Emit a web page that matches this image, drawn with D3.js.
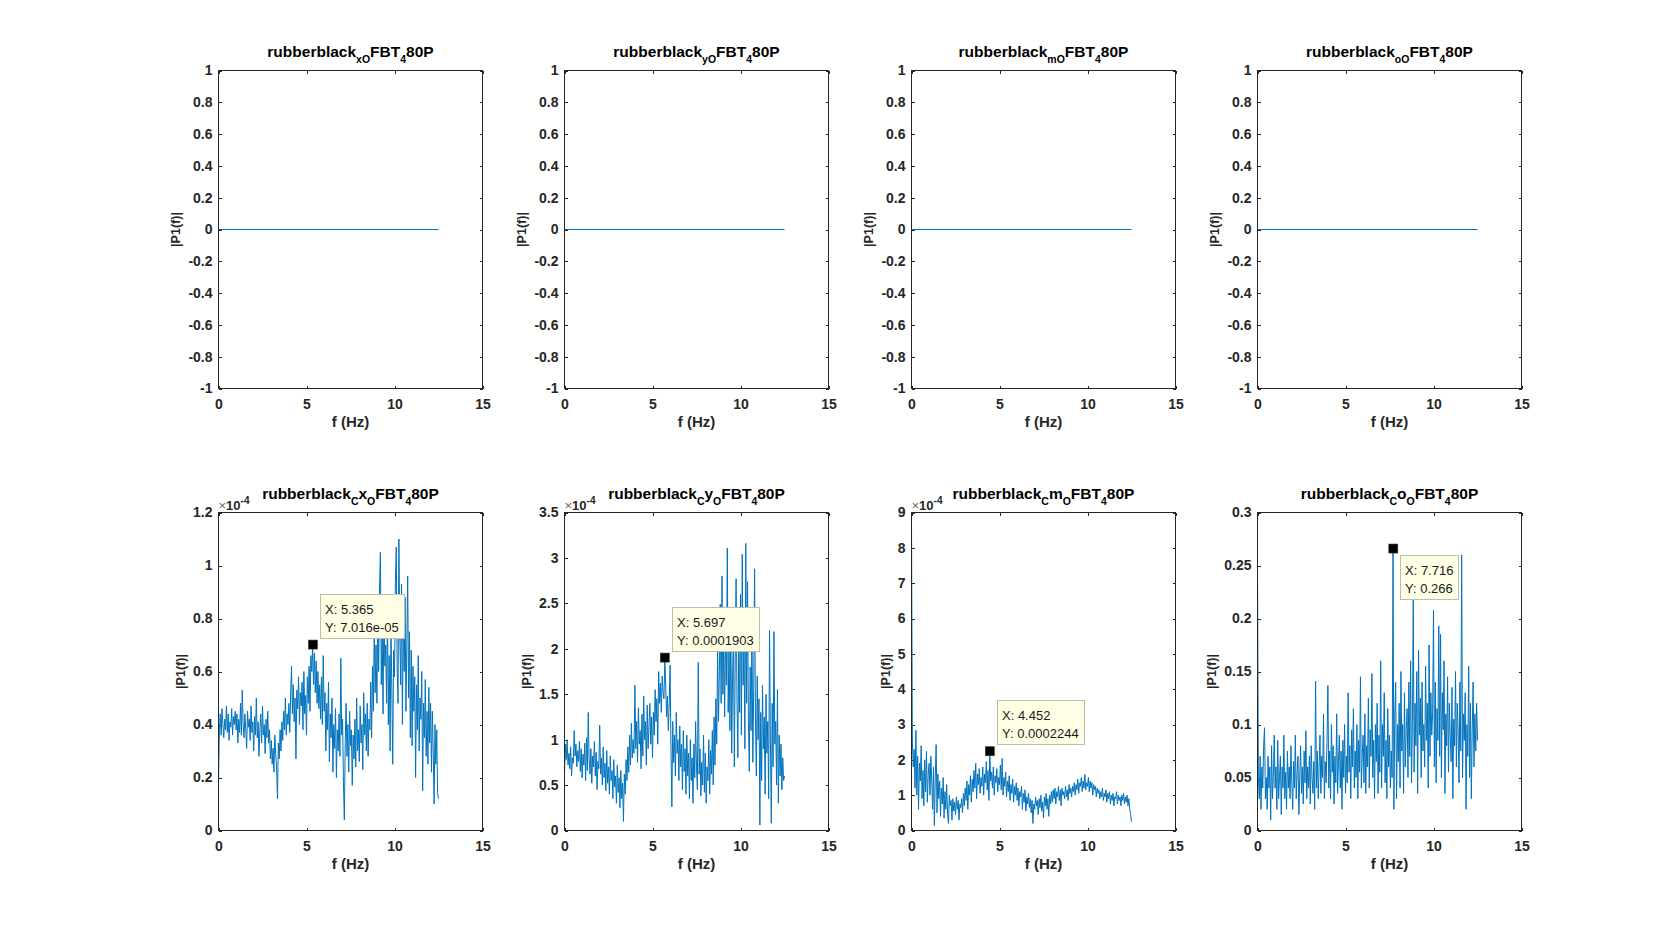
<!DOCTYPE html>
<html><head><meta charset="utf-8">
<script src="https://cdn.jsdelivr.net/npm/d3@7"></script>
<style>body{margin:0;background:#fff}svg{display:block}</style>
</head><body><svg id="c" width="1680" height="933"></svg>
<script>
// ---------------- data ----------------
const freqMax = 12.5;
const xTicks = [0, 5, 10, 15];
const xTickLabels = ["0", "5", "10", "15"];

const topTitles = ["rubberblack_{xO}FBT_{4}80P", "rubberblack_{yO}FBT_{4}80P", "rubberblack_{mO}FBT_{4}80P", "rubberblack_{oO}FBT_{4}80P"];
const bottomTitles = ["rubberblack_{C}x_{O}FBT_{4}80P", "rubberblack_{C}y_{O}FBT_{4}80P", "rubberblack_{C}m_{O}FBT_{4}80P", "rubberblack_{C}o_{O}FBT_{4}80P"];

const topFreq = [0, 12.5];
const topValues = [0, 0];
const topYTicks = [-1, -0.8, -0.6, -0.4, -0.2, 0, 0.2, 0.4, 0.6, 0.8, 1];
const topYTickLabels = ["-1", "-0.8", "-0.6", "-0.4", "-0.2", "0", "0.2", "0.4", "0.6", "0.8", "1"];

// bottom row (plots 1-3 in units of 1e-4)
const cxO = [
0.18,0.38,0.44,0.36,0.46,0.40,0.35,0.42,0.38,0.47,0.37,0.44,0.34,0.41,0.39,0.46,0.36,0.43,0.40,0.45,
0.38,0.44,0.33,0.42,0.37,0.48,0.36,0.53,0.40,0.35,0.44,0.38,0.31,0.45,0.39,0.42,0.34,0.47,0.37,0.41,
0.30,0.43,0.36,0.50,0.35,0.41,0.28,0.38,0.44,0.33,0.47,0.36,0.40,0.29,0.42,0.35,0.45,0.33,0.38,0.27,
0.34,0.25,0.31,0.22,0.36,0.29,0.24,0.12,0.33,0.27,0.38,0.30,0.41,0.34,0.45,0.38,0.50,0.36,0.44,0.40,
0.48,0.37,0.52,0.62,0.44,0.55,0.41,0.50,0.27,0.53,0.46,0.58,0.40,0.52,0.47,0.56,0.38,0.60,0.44,0.51,
0.36,0.58,0.48,0.62,0.45,0.66,0.60,0.70,0.55,0.67,0.52,0.64,0.48,0.60,0.46,0.55,0.42,0.58,0.40,0.66,
0.45,0.52,0.30,0.48,0.38,0.56,0.26,0.44,0.35,0.50,0.22,0.40,0.31,0.46,0.20,0.38,0.30,0.44,0.28,0.65,
0.36,0.42,0.18,0.04,0.33,0.48,0.28,0.40,0.22,0.45,0.32,0.38,0.17,0.36,0.27,0.42,0.24,0.50,0.30,0.38,
0.26,0.47,0.33,0.40,0.23,0.52,0.36,0.44,0.30,0.48,0.28,0.42,0.38,0.56,0.35,0.62,0.45,0.78,0.52,0.70,
0.48,0.82,0.60,0.92,1.05,0.55,0.75,0.44,0.88,0.62,0.70,0.48,0.85,0.40,0.66,0.30,0.78,0.52,0.25,0.68,
0.58,0.94,1.07,0.62,0.48,1.10,0.75,0.55,0.93,0.40,0.82,0.60,0.88,0.45,0.70,0.96,0.50,0.75,0.35,0.68,
0.32,0.62,0.45,0.58,0.20,0.55,0.38,0.66,0.30,0.50,0.42,0.60,0.15,0.48,0.35,0.57,0.28,0.45,0.25,0.54,
0.33,0.48,0.22,0.45,0.30,0.10,0.40,0.25,0.38,0.14,0.12];

const cyO = [
0.62,0.95,0.78,1.00,0.72,0.85,0.68,0.92,0.60,0.80,0.74,1.10,0.82,0.95,0.70,0.88,0.76,0.98,0.65,0.90,
0.58,0.84,0.72,0.96,0.55,1.02,0.66,1.30,0.78,0.62,0.90,0.52,0.82,0.70,0.98,0.60,0.86,0.45,0.76,0.68,
1.16,0.62,0.80,0.50,0.92,0.58,0.74,0.44,0.88,0.52,0.70,0.40,0.82,0.55,0.66,0.35,0.78,0.48,0.60,0.30,
0.72,0.42,0.58,0.25,0.66,0.35,0.52,0.10,0.62,0.40,0.78,0.55,0.92,0.64,1.05,0.72,1.18,0.80,1.00,0.85,
1.60,0.90,1.20,0.75,1.35,0.95,1.10,0.68,1.28,0.82,1.48,1.00,1.20,0.72,1.38,0.90,1.15,1.40,0.95,1.25,
0.80,1.30,1.05,1.55,1.20,1.45,0.95,1.75,1.40,1.62,1.30,1.70,1.52,1.45,1.90,1.60,1.25,1.48,1.10,1.40,
1.82,0.90,0.26,1.20,0.75,1.05,0.60,1.30,0.85,1.00,0.55,1.15,0.70,0.95,0.45,1.10,0.65,0.90,0.40,1.05,
0.60,0.85,0.35,1.00,0.55,0.80,0.30,0.95,0.58,1.20,0.70,0.45,1.85,0.62,0.90,0.38,0.75,0.50,1.05,0.42,
0.85,0.30,0.70,0.55,1.00,0.40,0.88,0.62,1.10,0.50,1.25,0.72,1.45,0.95,2.00,1.20,1.75,2.49,1.40,2.80,
1.50,2.10,1.25,2.30,1.60,3.11,1.30,2.00,1.10,2.40,0.85,1.70,2.20,0.70,1.90,2.77,1.45,0.80,2.10,1.30,
2.60,1.05,3.04,1.60,2.05,0.90,3.16,1.40,2.74,1.20,0.65,1.80,1.10,2.30,0.75,1.55,2.88,1.25,0.60,1.70,
1.00,1.45,0.06,1.30,0.55,1.60,0.90,1.25,0.40,1.50,0.85,1.20,0.35,2.20,1.00,0.08,1.40,0.70,2.19,0.95,
1.20,0.50,1.55,0.30,1.05,0.60,0.95,0.45,0.80,0.55,0.60];

const cmO = [
8.70,2.50,1.80,2.30,1.20,2.84,1.00,2.10,0.60,1.90,1.40,2.40,0.90,1.70,0.70,2.00,1.10,2.24,0.80,1.60,
1.90,1.00,2.10,1.40,0.60,1.80,0.14,1.50,2.43,0.50,1.60,0.90,1.40,0.40,1.20,0.75,1.50,0.35,1.10,0.60,
1.30,0.45,0.20,1.00,0.70,0.85,0.30,0.90,0.55,0.80,0.45,0.95,0.60,0.85,0.30,0.75,0.65,0.90,0.50,1.05,
0.70,1.20,0.85,1.40,0.60,1.30,1.00,1.55,0.80,1.45,1.10,1.70,1.20,1.90,0.90,1.60,1.30,1.75,1.05,1.50,
1.25,1.80,1.00,1.60,1.35,1.95,1.15,1.70,0.85,2.24,1.40,1.65,1.20,1.80,1.00,1.55,1.35,1.75,1.10,1.50,
1.30,1.85,1.15,2.04,1.00,1.50,1.25,1.65,0.95,1.40,1.10,1.55,0.85,1.30,1.05,1.45,0.80,1.25,1.00,1.35,
0.85,1.20,0.70,1.10,0.95,1.25,0.60,1.05,0.80,1.15,0.55,0.95,0.75,1.05,0.65,0.90,0.50,0.85,0.20,0.75,
0.60,0.95,0.70,0.85,0.45,0.90,0.65,1.00,0.55,0.80,0.35,0.95,0.70,1.05,0.60,0.90,0.40,1.00,0.75,1.10,
0.80,1.15,0.90,1.20,0.75,1.10,0.95,1.25,0.85,1.15,0.70,1.20,1.00,1.10,0.90,1.25,0.95,1.15,0.85,1.30,
1.05,1.20,0.95,1.25,1.10,1.35,1.00,1.30,1.15,1.45,1.05,1.35,1.25,1.50,1.10,1.40,1.20,1.59,1.15,1.35,
1.25,1.50,1.10,1.40,1.20,1.35,1.00,1.30,1.15,1.25,0.95,1.20,1.05,1.15,0.90,1.10,0.95,1.20,0.85,1.05,
0.95,1.15,0.80,1.05,0.90,1.10,0.75,1.00,0.85,1.05,0.70,0.95,0.90,1.10,0.75,1.00,0.85,0.95,0.70,1.00,
0.85,1.05,0.75,0.95,0.80,1.00,0.70,0.90,0.60,0.45,0.25];

const coO = [
0.25,0.05,0.03,0.07,0.02,0.06,0.04,0.08,0.097,0.03,0.05,0.02,0.07,0.04,0.06,0.01,0.08,0.03,0.05,0.09,
0.04,0.06,0.02,0.085,0.03,0.05,0.07,0.015,0.06,0.04,0.09,0.03,0.055,0.02,0.075,0.04,0.06,0.03,0.08,0.045,
0.02,0.065,0.04,0.09,0.03,0.055,0.07,0.015,0.05,0.08,0.035,0.06,0.025,0.075,0.045,0.094,0.03,0.06,0.04,0.07,
0.025,0.08,0.05,0.035,0.065,0.02,0.141,0.04,0.075,0.03,0.06,0.09,0.035,0.07,0.05,0.11,0.03,0.065,0.045,0.085,
0.137,0.04,0.075,0.03,0.1,0.055,0.08,0.025,0.07,0.045,0.11,0.035,0.065,0.09,0.04,0.075,0.02,0.085,0.05,0.1,
0.035,0.07,0.045,0.13,0.055,0.08,0.03,0.095,0.06,0.115,0.04,0.075,0.05,0.1,0.03,0.085,0.055,0.145,0.04,0.07,
0.09,0.045,0.11,0.035,0.08,0.06,0.125,0.04,0.095,0.07,0.148,0.05,0.085,0.03,0.1,0.065,0.12,0.035,0.09,0.055,
0.16,0.04,0.1,0.07,0.13,0.045,0.085,0.03,0.115,0.06,0.09,0.04,0.075,0.05,0.266,0.02,0.11,0.14,0.03,0.1,
0.065,0.12,0.04,0.15,0.075,0.1,0.035,0.13,0.06,0.095,0.115,0.05,0.14,0.07,0.16,0.045,0.1,0.218,0.055,0.12,
0.08,0.15,0.035,0.17,0.09,0.125,0.05,0.14,0.075,0.1,0.06,0.155,0.085,0.12,0.04,0.175,0.07,0.13,0.09,0.11,
0.208,0.06,0.14,0.045,0.115,0.085,0.193,0.07,0.185,0.05,0.13,0.095,0.16,0.035,0.11,0.08,0.145,0.055,0.12,0.09,
0.065,0.135,0.03,0.105,0.08,0.15,0.06,0.12,0.095,0.045,0.14,0.075,0.26,0.05,0.11,0.085,0.13,0.02,0.1,0.07,
0.155,0.05,0.12,0.03,0.095,0.14,0.06,0.11,0.075,0.12,0.085];

const bottomSeries = [cxO, cyO, cmO, coO];
const bottomYMax = [1.2, 3.5, 9, 0.3];
const bottomYTicks = [
  [0, 0.2, 0.4, 0.6, 0.8, 1, 1.2],
  [0, 0.5, 1, 1.5, 2, 2.5, 3, 3.5],
  [0, 1, 2, 3, 4, 5, 6, 7, 8, 9],
  [0, 0.05, 0.1, 0.15, 0.2, 0.25, 0.3]];
const bottomYTickLabels = [
  ["0", "0.2", "0.4", "0.6", "0.8", "1", "1.2"],
  ["0", "0.5", "1", "1.5", "2", "2.5", "3", "3.5"],
  ["0", "1", "2", "3", "4", "5", "6", "7", "8", "9"],
  ["0", "0.05", "0.1", "0.15", "0.2", "0.25", "0.3"]];
const bottomExponent = ["-4", "-4", "-4", null];
const bottomUnit = [1e-4, 1e-4, 1e-4, 1];

const tipX = [5.365, 5.697, 4.452, 7.716];
const tipY = [7.016e-05, 0.0001903, 0.0002244, 0.266];
const tipTextX = ["X: 5.365", "X: 5.697", "X: 4.452", "X: 7.716"];
const tipTextY = ["Y: 7.016e-05", "Y: 0.0001903", "Y: 0.0002244", "Y: 0.266"];
const tipBelow = [false, false, false, true];

const xLabel = "f (Hz)";
const yLabel = "|P1(f)|";

// ---------------- layout ----------------
const FONT = "'Liberation Sans', Arial, Helvetica, sans-serif";
const AX = "#262626";
const LINE = "#0072BD";
const colLeft = [218.5, 564.5, 911.5, 1257.5];
const W = 264;
const rowBox = [{top: 70.5, bottom: 388.5}, {top: 512.5, bottom: 830.5}];

const svg = d3.select("#c");
svg.append("rect").attr("width", 1680).attr("height", 933).attr("fill", "#fff");

function drawTitle(g, str, cx, y) {
  const parts = str.split(/_\{([^}]*)\}/);
  const t = g.append("text").attr("x", cx).attr("y", y)
    .attr("text-anchor", "middle").attr("font-family", FONT)
    .attr("font-weight", "bold").attr("font-size", 15.5).attr("fill", "#000");
  let shifted = false;
  parts.forEach((p, i) => {
    if (p === "") { return; }
    const sub = i % 2 === 1;
    const ts = t.append("tspan").text(p);
    if (sub) {
      ts.attr("font-size", 10.5).attr("dy", shifted ? 0 : 5.5);
      shifted = true;
    } else {
      if (shifted) ts.attr("dy", -5.5);
      shifted = false;
    }
  });
}

function drawPanel(col, row, cfg) {
  const left = colLeft[col], box = rowBox[row];
  const g = svg.append("g");
  const x = d3.scaleLinear().domain([0, 15]).range([left, left + W]);
  const y = d3.scaleLinear().domain(cfg.yDomain).range([box.bottom, box.top]);

  const fmtY = d => cfg.yLabels[cfg.yTicks.indexOf(d)];
  const fmtX = d => xTickLabels[xTicks.indexOf(d)];
  const gb = g.append("g").attr("transform", `translate(0,${box.bottom})`)
    .call(d3.axisBottom(x).tickValues(xTicks).tickFormat(fmtX).tickSize(-3).tickPadding(10.5));
  const gt = g.append("g").attr("transform", `translate(0,${box.top})`)
    .call(d3.axisTop(x).tickValues(xTicks).tickFormat("").tickSize(-3));
  const gl = g.append("g").attr("transform", `translate(${left},0)`)
    .call(d3.axisLeft(y).tickValues(cfg.yTicks).tickFormat(fmtY).tickSize(-3).tickPadding(6));
  const gr = g.append("g").attr("transform", `translate(${left + W},0)`)
    .call(d3.axisRight(y).tickValues(cfg.yTicks).tickFormat("").tickSize(-3));
  [gb, gt, gl, gr].forEach(a => {
    a.select(".domain").remove();
    a.selectAll("line").attr("stroke", AX).attr("shape-rendering", "crispEdges");
    a.selectAll("text").attr("font-family", FONT).attr("font-weight", "bold")
      .attr("font-size", 14).attr("fill", AX);
  });

  const line = d3.line().x(d => x(d[0])).y(d => y(d[1]));
  g.append("path").datum(cfg.points).attr("d", line)
    .attr("fill", "none").attr("stroke", LINE).attr("stroke-width", 1)
    .attr("stroke-linejoin", "round");

  g.append("rect").attr("x", left).attr("y", box.top).attr("width", W)
    .attr("height", box.bottom - box.top).attr("fill", "none")
    .attr("stroke", AX).attr("shape-rendering", "crispEdges");

  drawTitle(g, cfg.title, left + W / 2, box.top - 13.5);

  g.append("text").attr("x", left + W / 2).attr("y", box.bottom + 38.5)
    .attr("text-anchor", "middle").attr("font-family", FONT).attr("font-weight", "bold")
    .attr("font-size", 15).attr("fill", AX).text(xLabel);

  let maxW = 0;
  gl.selectAll("text").each(function () { maxW = Math.max(maxW, this.getComputedTextLength()); });
  const ly = (box.top + box.bottom) / 2;
  const lx = left - 6 - maxW - 8;
  g.append("text").attr("transform", `translate(${lx},${ly}) rotate(-90)`)
    .attr("text-anchor", "middle").attr("font-family", FONT).attr("font-weight", "bold")
    .attr("font-size", 12.5).attr("fill", AX).text(yLabel);

  if (cfg.exponent) {
    const e = g.append("text").attr("x", left).attr("y", box.top - 3)
      .attr("font-family", FONT).attr("font-size", 13).attr("fill", AX);
    e.append("tspan").attr("fill", "#666").text("\u00D7");
    e.append("tspan").attr("font-weight", "bold").text("10");
    e.append("tspan").attr("font-weight", "bold").attr("font-size", 10).attr("dy", -6).text(cfg.exponent);
  }

  if (cfg.tip) {
    const mx = x(cfg.tip.x), my = y(cfg.tip.y);
    const tg = g.append("g");
    const t1 = tg.append("text").attr("font-family", FONT).attr("font-size", 13).attr("fill", "#1a1a1a").text(cfg.tip.tx);
    const t2 = tg.append("text").attr("font-family", FONT).attr("font-size", 13).attr("fill", "#1a1a1a").text(cfg.tip.ty);
    const tw = Math.max(t1.node().getComputedTextLength(), t2.node().getComputedTextLength());
    const bw = Math.round(tw + 10), bh = 44;
    const bx = Math.round(mx + 7) + 0.5;
    const by = cfg.tip.below ? Math.round(my + 6) + 0.5 : Math.round(my - 7 - bh) + 0.5;
    tg.insert("rect", "text").attr("x", bx).attr("y", by).attr("width", bw).attr("height", bh)
      .attr("fill", "#FFFFE6").attr("stroke", "#BDBDA8");
    t1.attr("x", bx + 4.5).attr("y", by + 19);
    t2.attr("x", bx + 4.5).attr("y", by + 37);
    g.append("rect").attr("x", mx - 4.5).attr("y", my - 4.5).attr("width", 9).attr("height", 9)
      .attr("fill", "#000").attr("stroke", "#3a3a20").attr("stroke-width", 0.6);
  }
}

for (let c = 0; c < 4; c++) {
  drawPanel(c, 0, {
    yDomain: [-1, 1], yTicks: topYTicks, yLabels: topYTickLabels,
    points: topFreq.map((f, i) => [f, topValues[i]]),
    title: topTitles[c]
  });
}
for (let c = 0; c < 4; c++) {
  const vals = bottomSeries[c];
  const n = vals.length;
  drawPanel(c, 1, {
    yDomain: [0, bottomYMax[c]], yTicks: bottomYTicks[c], yLabels: bottomYTickLabels[c],
    points: vals.map((v, i) => [i * freqMax / (n - 1), v]),
    title: bottomTitles[c],
    exponent: bottomExponent[c],
    tip: {x: tipX[c], y: tipY[c] / bottomUnit[c], tx: tipTextX[c], ty: tipTextY[c], below: tipBelow[c]}
  });
}
</script>
</body></html>
